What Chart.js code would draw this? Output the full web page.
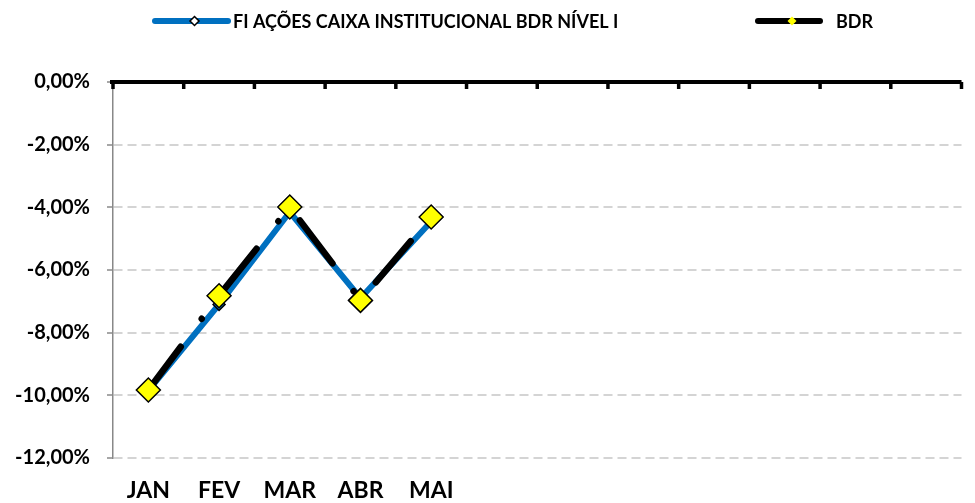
<!DOCTYPE html>
<html>
<head>
<meta charset="utf-8">
<script src="https://cdn.jsdelivr.net/npm/chart.js@4"></script>
<style>
  body { margin: 0; background: #fff; }
  #wrap { width: 975px; height: 503px; }
</style>
</head>
<body>
<div id="wrap"><canvas id="chart"></canvas></div>
<script>
const months = ['JAN', 'FEV', 'MAR', 'ABR', 'MAI', '', '', '', '', '', '', ''];
const fundValues = [-9.85, -7.10, -4.15, -6.90, -4.45];
const bdrValues = [-9.83, -6.82, -3.99, -6.97, -4.31];
const yMin = -12;
const yMax = 0;
const yStep = 2;

const FONT = 'Lato, "Open Sans", sans-serif';
const BLUE = '#0070C0';
const YELLOW = '#FFFF00';

/* top axis line (at 0%) with tick marks between categories */
const topAxis = {
  id: 'topAxis',
  afterDatasetsDraw(chart) {
    const { ctx, chartArea, scales } = chart;
    const y0 = scales.y.getPixelForValue(0);
    ctx.save();
    ctx.strokeStyle = '#000';
    ctx.lineWidth = 4;
    ctx.beginPath();
    ctx.moveTo(chartArea.left - 3, y0);
    ctx.lineTo(chartArea.right, y0);
    ctx.stroke();
    ctx.lineWidth = 3.5;
    for (let i = 0; i <= months.length; i++) {
      const px = scales.x.getPixelForValue(i - 0.5);
      ctx.beginPath();
      ctx.moveTo(px, y0);
      ctx.lineTo(px, y0 + 7);
      ctx.stroke();
    }
    ctx.restore();
  }
};

/* legend: line with marker + bold label */
function diamond(ctx, x, y, r, fill, stroke) {
  ctx.beginPath();
  ctx.moveTo(x, y - r);
  ctx.lineTo(x + r, y);
  ctx.lineTo(x, y + r);
  ctx.lineTo(x - r, y);
  ctx.closePath();
  ctx.fillStyle = fill;
  ctx.fill();
  if (stroke) {
    ctx.lineWidth = 1.5;
    ctx.strokeStyle = stroke;
    ctx.stroke();
  }
}

const legendPlugin = {
  id: 'customLegend',
  afterDraw(chart) {
    const ctx = chart.ctx;
    const items = [
      { x1: 155, x2: 228, tx: 233, color: BLUE, marker: '#fff', edge: '#000', text: chart.data.datasets[1].label },
      { x1: 758, x2: 820, tx: 836, color: '#000', marker: YELLOW, edge: null, text: chart.data.datasets[0].label }
    ];
    ctx.save();
    items.forEach(it => {
      ctx.strokeStyle = it.color;
      ctx.lineWidth = 6;
      ctx.lineCap = 'round';
      ctx.beginPath();
      ctx.moveTo(it.x1, 21);
      ctx.lineTo(it.x2, 21);
      ctx.stroke();
      diamond(ctx, (it.x1 + it.x2) / 2 + 3, 21, 4.5, it.marker, it.edge);
      ctx.fillStyle = '#000';
      ctx.font = 'bold 18px ' + FONT;
      ctx.textBaseline = 'middle';
      ctx.fillText(it.text, it.tx, 22);
    });
    ctx.restore();
  }
};

new Chart(document.getElementById('chart'), {
  type: 'line',
  data: {
    labels: months,
    datasets: [{
      label: 'BDR',
      data: bdrValues,
      borderColor: '#000',
      borderWidth: 6.5,
      borderDash: [54, 35, 0.01, 35],
      borderCapStyle: 'round',
      pointStyle: 'rectRot',
      pointRadius: 12,
      pointBackgroundColor: YELLOW,
      pointBorderColor: '#000',
      pointBorderWidth: 1.5,
      tension: 0
    }, {
      label: 'FI AÇÕES CAIXA INSTITUCIONAL BDR NÍVEL I',
      data: fundValues,
      borderColor: BLUE,
      borderWidth: 6,
      borderCapStyle: 'round',
      pointStyle: 'rectRot',
      pointRadius: 6,
      pointBackgroundColor: BLUE,
      pointBorderColor: '#000',
      pointBorderWidth: 1.5,
      tension: 0
    }]
  },
  options: {
    responsive: true,
    maintainAspectRatio: false,
    animation: false,
    layout: { padding: { top: 82, left: 8, right: 0, bottom: 0 } },
    plugins: {
      legend: { display: false },
      tooltip: { enabled: false }
    },
    scales: {
      x: {
        offset: true,
        afterFit(scale) { scale.height = 45; },
        grid: { display: false, drawTicks: false },
        border: { display: false },
        ticks: {
          color: '#000',
          padding: 19,
          maxRotation: 0,
          autoSkip: false,
          font: { family: FONT, size: 23, weight: 'bold' }
        }
      },
      y: {
        min: yMin,
        max: yMax,
        afterFit(scale) { scale.width = 105; },
        ticks: {
          stepSize: yStep,
          color: '#000',
          padding: 17,
          font: { family: FONT, size: 20, weight: 'bold' },
          callback: v => v.toFixed(2).replace('.', ',') + '%'
        },
        grid: {
          color: '#d4d4d4',
          lineWidth: 2,
          tickLength: 6,
          tickColor: '#888',
          tickWidth: 1.5
        },
        border: { color: '#888', width: 1.5, dash: [9, 5] }
      }
    }
  },
  plugins: [topAxis, legendPlugin]
});
</script>
</body>
</html>
